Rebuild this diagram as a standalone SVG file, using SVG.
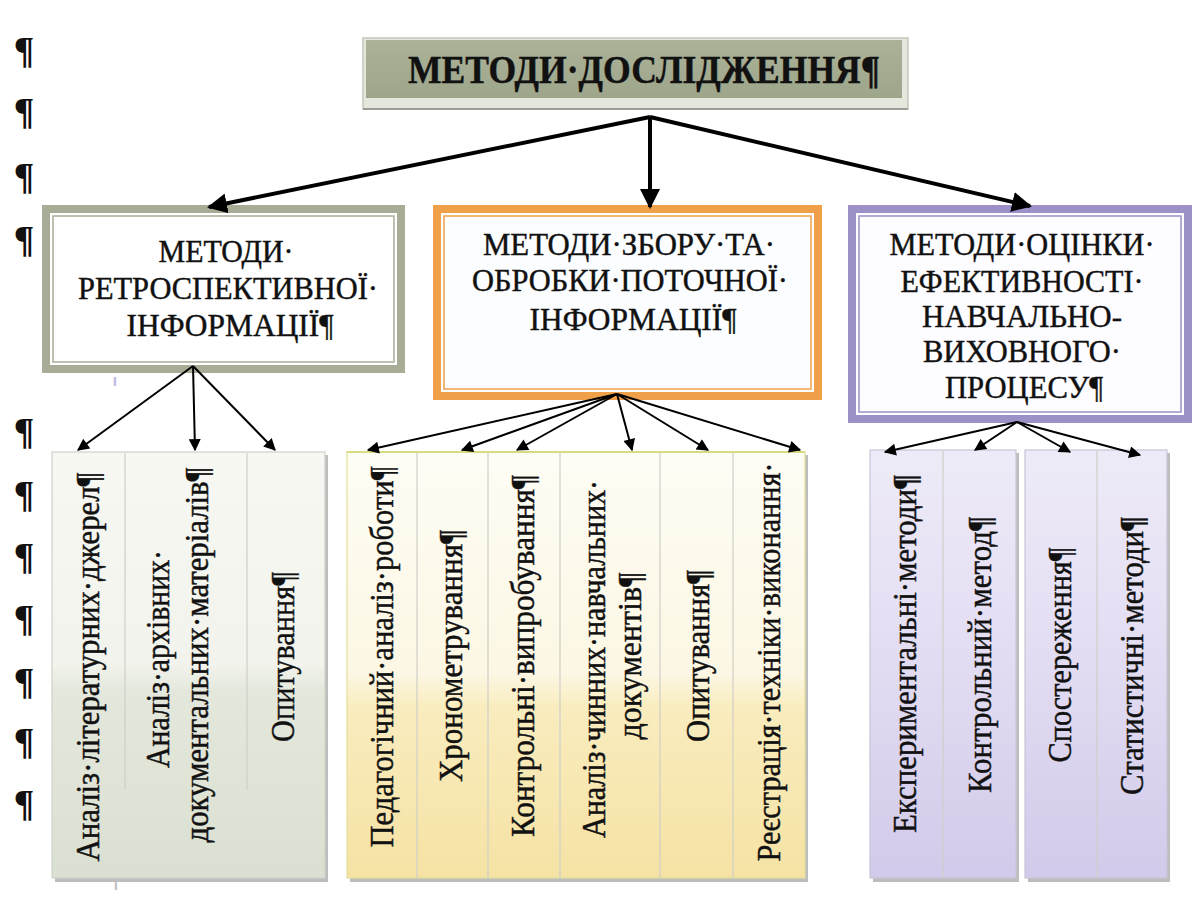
<svg xmlns="http://www.w3.org/2000/svg" width="1195" height="900" viewBox="0 0 1195 900">
<defs>
<linearGradient id="gTitle" x1="0" y1="0" x2="0" y2="1"><stop offset="0" stop-color="#abb298"/><stop offset="1" stop-color="#9da58a"/></linearGradient>
<linearGradient id="gL" x1="0" y1="0" x2="0" y2="1"><stop offset="0" stop-color="#f7f8f3"/><stop offset="0.5" stop-color="#f1f3ec"/><stop offset="0.56" stop-color="#e4e8dc"/><stop offset="1" stop-color="#dae0d1"/></linearGradient>
<linearGradient id="gM" x1="0" y1="0" x2="0" y2="1"><stop offset="0" stop-color="#fefdf5"/><stop offset="0.52" stop-color="#fcf7e4"/><stop offset="0.6" stop-color="#f9ecbe"/><stop offset="1" stop-color="#f5e2a4"/></linearGradient>
<linearGradient id="gR" x1="0" y1="0" x2="0" y2="1"><stop offset="0" stop-color="#eeebf8"/><stop offset="0.5" stop-color="#e2dcf2"/><stop offset="1" stop-color="#d2caea"/></linearGradient>
<marker id="ahBig" viewBox="0 0 10 10" refX="9" refY="5" markerWidth="5" markerHeight="5" markerUnits="strokeWidth" orient="auto"><path d="M0,0 L10,5 L0,10 z" fill="#000"/></marker>
<marker id="ahSmall" viewBox="0 0 10 10" refX="9" refY="5" markerWidth="7" markerHeight="6" markerUnits="strokeWidth" orient="auto"><path d="M0,0 L10,5 L0,10 z" fill="#000"/></marker>
</defs>
<style>
.t{font-family:"Liberation Serif","Times New Roman",serif;fill:#111;stroke:#111;stroke-width:0.45px;}
.hd{font-size:32px;text-anchor:middle;}
.col{font-size:34px;text-anchor:middle;}
.pm{font-family:"Liberation Serif",serif;font-weight:bold;font-size:38px;fill:#111;text-anchor:middle;}
.big{stroke:#000;stroke-width:4;fill:none;marker-end:url(#ahBig);}
.sm{stroke:#000;stroke-width:2;fill:none;marker-end:url(#ahSmall);}
.div{stroke:#cfcfc8;stroke-width:1.2;}
.shadow{fill:#bdbdbd;}
</style>
<rect width="1195" height="900" fill="#ffffff"/>

<g id="pilcrows">
<text class="pm" x="24" y="63">¶</text>
<text class="pm" x="24" y="124">¶</text>
<text class="pm" x="24" y="189">¶</text>
<text class="pm" x="24" y="252">¶</text>
<text class="pm" x="24" y="444">¶</text>
<text class="pm" x="24" y="507">¶</text>
<text class="pm" x="24" y="569">¶</text>
<text class="pm" x="24" y="631">¶</text>
<text class="pm" x="24" y="694">¶</text>
<text class="pm" x="24" y="754">¶</text>
<text class="pm" x="24" y="816">¶</text>
<text x="113" y="386" font-family="Liberation Serif,serif" font-size="13" fill="#8c8cd0">‖</text>
<text x="114" y="890" font-family="Liberation Serif,serif" font-size="13" fill="#999">‖</text>
</g>

<g id="title">
<rect x="363" y="38" width="545" height="71" fill="#e4e8dc" stroke="#c4c8bb" stroke-width="1.5"/>
<line x1="363" y1="109" x2="908" y2="109" stroke="#9a9c95" stroke-width="2"/>
<rect x="366" y="40" width="536" height="58" fill="url(#gTitle)"/>
<text class="t" x="644" y="83" font-size="39" font-weight="bold" text-anchor="middle" textLength="472" lengthAdjust="spacingAndGlyphs">МЕТОДИ·ДОСЛІДЖЕННЯ¶</text>
</g>

<g id="box-retro">
<rect x="46" y="209" width="355" height="160" fill="#fff" stroke="#a7ac96" stroke-width="8"/>
<rect x="53" y="216" width="341" height="146" fill="none" stroke="#a7ac96" stroke-width="1.5"/>
<text class="t hd" x="226" y="262" textLength="135" lengthAdjust="spacingAndGlyphs">МЕТОДИ·</text>
<text class="t hd" x="228" y="299" textLength="300" lengthAdjust="spacingAndGlyphs">РЕТРОСПЕКТИВНОЇ·</text>
<text class="t hd" x="230" y="336" textLength="207" lengthAdjust="spacingAndGlyphs">ІНФОРМАЦІЇ¶</text>
</g>

<g id="box-current">
<rect x="437" y="209" width="381" height="187" fill="#fbfdfe" stroke="#f0a048" stroke-width="8"/>
<rect x="444" y="216" width="367" height="173" fill="none" stroke="#f0a048" stroke-width="1.5"/>
<text class="t hd" x="629" y="255" textLength="292" lengthAdjust="spacingAndGlyphs">МЕТОДИ·ЗБОРУ·ТА·</text>
<text class="t hd" x="630" y="291" textLength="316" lengthAdjust="spacingAndGlyphs">ОБРОБКИ·ПОТОЧНОЇ·</text>
<text class="t hd" x="633" y="330" textLength="207" lengthAdjust="spacingAndGlyphs">ІНФОРМАЦІЇ¶</text>
</g>

<g id="box-eval">
<rect x="852" y="209" width="336" height="210" fill="#fdfcff" stroke="#9c90c7" stroke-width="8"/>
<rect x="859" y="216" width="322" height="196" fill="none" stroke="#9c90c7" stroke-width="1.5"/>
<text class="t hd" x="1022" y="255" textLength="265" lengthAdjust="spacingAndGlyphs">МЕТОДИ·ОЦІНКИ·</text>
<text class="t hd" x="1022" y="292" textLength="243" lengthAdjust="spacingAndGlyphs">ЕФЕКТИВНОСТІ·</text>
<text class="t hd" x="1022" y="327" textLength="200" lengthAdjust="spacingAndGlyphs">НАВЧАЛЬНО-</text>
<text class="t hd" x="1022" y="362" textLength="198" lengthAdjust="spacingAndGlyphs">ВИХОВНОГО·</text>
<text class="t hd" x="1024" y="398" textLength="158" lengthAdjust="spacingAndGlyphs">ПРОЦЕСУ¶</text>
</g>

<g id="group-retro">
<rect class="shadow" x="55" y="455" width="273" height="427"/>
<rect x="52" y="452" width="273" height="426" fill="url(#gL)" stroke="#cfd2c8" stroke-width="1.2"/>
<line class="div" x1="125" y1="453" x2="125" y2="790"/>
<line class="div" x1="247" y1="453" x2="247" y2="790"/>
<g transform="translate(88,667) rotate(-90)"><text class="t col" x="0" y="11" textLength="389" lengthAdjust="spacingAndGlyphs">Аналіз·літературних·джерел¶</text></g>
<g transform="translate(158,659) rotate(-90)"><text class="t col" x="0" y="11" textLength="218" lengthAdjust="spacingAndGlyphs">Аналіз·архівних·</text></g>
<g transform="translate(197,655) rotate(-90)"><text class="t col" x="0" y="11" textLength="375" lengthAdjust="spacingAndGlyphs">документальних·матеріалів¶</text></g>
<g transform="translate(283,657) rotate(-90)"><text class="t col" x="0" y="11" textLength="170" lengthAdjust="spacingAndGlyphs">Опитування¶</text></g>
</g>

<g id="group-current">
<rect class="shadow" x="350" y="455" width="458" height="427"/>
<rect x="347" y="452" width="458" height="426" fill="url(#gM)" stroke="#e2e09a" stroke-width="1.2"/>
<line x1="347" y1="452" x2="805" y2="452" stroke="#d9dc7e" stroke-width="2"/>
<line class="div" x1="417" y1="453" x2="417" y2="878"/>
<line class="div" x1="488" y1="453" x2="488" y2="878"/>
<line class="div" x1="560" y1="453" x2="560" y2="878"/>
<line class="div" x1="660" y1="453" x2="660" y2="878"/>
<line class="div" x1="733" y1="453" x2="733" y2="878"/>
<g transform="translate(382,657) rotate(-90)"><text class="t col" x="0" y="11" textLength="381" lengthAdjust="spacingAndGlyphs">Педагогічний·аналіз·роботи¶</text></g>
<g transform="translate(451,656) rotate(-90)"><text class="t col" x="0" y="11" textLength="252" lengthAdjust="spacingAndGlyphs">Хронометрування¶</text></g>
<g transform="translate(523,656) rotate(-90)"><text class="t col" x="0" y="11" textLength="362" lengthAdjust="spacingAndGlyphs">Контрольні·випробування¶</text></g>
<g transform="translate(594,659) rotate(-90)"><text class="t col" x="0" y="11" textLength="358" lengthAdjust="spacingAndGlyphs">Аналіз·чинних·навчальних·</text></g>
<g transform="translate(630,656) rotate(-90)"><text class="t col" x="0" y="11" textLength="167" lengthAdjust="spacingAndGlyphs">документів¶</text></g>
<g transform="translate(698,656) rotate(-90)"><text class="t col" x="0" y="11" textLength="172" lengthAdjust="spacingAndGlyphs">Опитування¶</text></g>
<g transform="translate(769,662) rotate(-90)"><text class="t col" x="0" y="11" textLength="399" lengthAdjust="spacingAndGlyphs">Реєстрація·техніки·виконання·</text></g>
</g>

<g id="group-eval">
<rect class="shadow" x="873" y="453" width="146" height="429"/>
<rect x="870" y="450" width="146" height="428" fill="url(#gR)" stroke="#c9c4d8" stroke-width="1.2"/>
<line class="div" x1="943" y1="451" x2="943" y2="878" stroke="#c4bfd4"/>
<rect class="shadow" x="1028" y="453" width="142" height="429"/>
<rect x="1025" y="450" width="142" height="428" fill="url(#gR)" stroke="#c9c4d8" stroke-width="1.2"/>
<line class="div" x1="1097" y1="451" x2="1097" y2="878" stroke="#c4bfd4"/>
<g transform="translate(905,654) rotate(-90)"><text class="t col" x="0" y="11" textLength="358" lengthAdjust="spacingAndGlyphs">Експериментальні·методи¶</text></g>
<g transform="translate(980,655) rotate(-90)"><text class="t col" x="0" y="11" textLength="276" lengthAdjust="spacingAndGlyphs">Контрольний·метод¶</text></g>
<g transform="translate(1060,655) rotate(-90)"><text class="t col" x="0" y="11" textLength="215" lengthAdjust="spacingAndGlyphs">Спостереження¶</text></g>
<g transform="translate(1132,656) rotate(-90)"><text class="t col" x="0" y="11" textLength="278" lengthAdjust="spacingAndGlyphs">Статистичні·методи¶</text></g>
</g>

<g id="connectors">
<line class="big" x1="650" y1="117" x2="209" y2="207"/>
<line class="big" x1="650" y1="117" x2="650" y2="207"/>
<line class="big" x1="650" y1="117" x2="1030" y2="206"/>
<line class="sm" x1="193" y1="366" x2="78" y2="450"/>
<line class="sm" x1="193" y1="366" x2="195" y2="450"/>
<line class="sm" x1="193" y1="366" x2="275" y2="450"/>
<line class="sm" x1="617" y1="394" x2="368" y2="450"/>
<line class="sm" x1="617" y1="394" x2="462" y2="450"/>
<line class="sm" x1="617" y1="394" x2="517" y2="450"/>
<line class="sm" x1="617" y1="394" x2="632" y2="450"/>
<line class="sm" x1="617" y1="394" x2="708" y2="450"/>
<line class="sm" x1="617" y1="394" x2="800" y2="450"/>
<line class="sm" x1="1017" y1="422" x2="885" y2="452"/>
<line class="sm" x1="1017" y1="422" x2="975" y2="450"/>
<line class="sm" x1="1017" y1="422" x2="1070" y2="452"/>
<line class="sm" x1="1017" y1="422" x2="1140" y2="455"/>
</g>
</svg>
